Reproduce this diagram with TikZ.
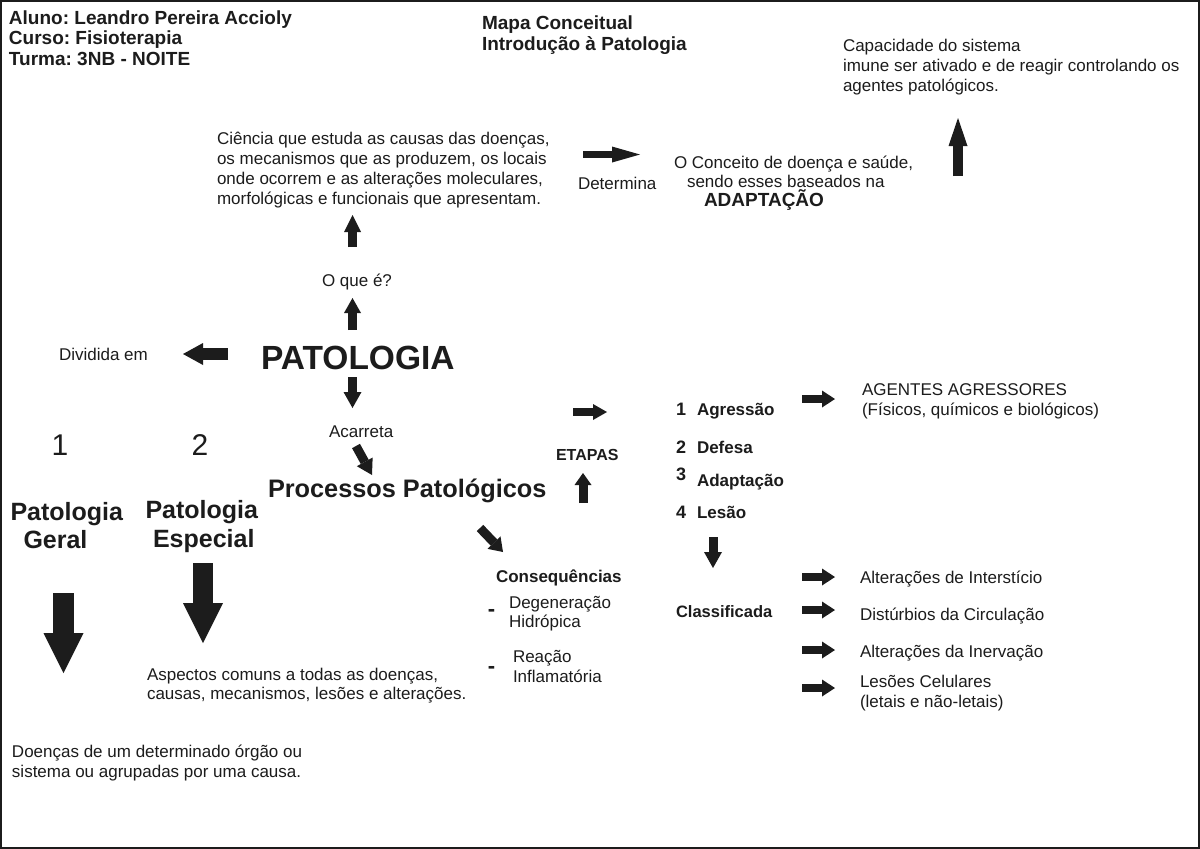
\documentclass[tikz,border=0pt]{standalone}
\usepackage{fontspec}
\setmainfont{Liberation Sans}
\usetikzlibrary{arrows.meta}
\definecolor{ink}{HTML}{1C1C1C}
\newcommand{\myfs}[2]{\fontsize{#1pt}{#2pt}\selectfont}
\frenchspacing
\begin{document}
\begin{tikzpicture}[x=1pt,y=-1pt,
  txt/.style={inner sep=0pt, outer sep=0pt, text=ink, align=left, anchor=base west, font=\myfs{17}{20}},
  btxt/.style={txt, font=\bfseries\myfs{#1}{#1}},
  barr/.style n args={3}{draw=ink, line width=#1pt, -{Triangle[width=#2pt, length=#3pt, line width=0pt]}}]
\useasboundingbox (0,0) rectangle (1200,849);
\fill[white] (0,0) rectangle (1200,849);
\draw[ink, line width=2pt] (1,1) rectangle (1199,848);

% multi-line nodes are placed by the baseline of their last line
% header
\node[txt, font=\bfseries\myfs{19}{20.5}] (hdr) at (9,65) {Aluno: Leandro Pereira Accioly\\Curso: Fisioterapia\\Turma: 3NB - NOITE};
\node[txt, font=\bfseries\myfs{19}{21}] (mapa) at (482,50) {Mapa Conceitual\\Introdução à Patologia};
\node[txt] (cap) at (843,91) {Capacidade do sistema\\imune ser ativado e de reagir controlando os\\agentes patológicos.};

% upper middle
\node[txt] (cien) at (217,204) {Ciência que estuda as causas das doenças,\\os mecanismos que as produzem, os locais\\onde ocorrem e as alterações moleculares,\\morfológicas e funcionais que apresentam.};
\node[txt] (det) at (578,189) {Determina};
\node[txt] (conc1) at (674,168) {O Conceito de doença e saúde,};
\node[txt] (conc2) at (687,187) {sendo esses baseados na};
\node[btxt=19] (adapt) at (704,206) {ADAPTAÇÃO};
\node[txt] (oque) at (322,286) {O que é?};

% centre
\node[txt] (div) at (59,360) {Dividida em};
\node[btxt=33.5] (pat) at (261,369) {PATOLOGIA};
\node[txt] (acar) at (329,437) {Acarreta};
\node[btxt=25.3] (proc) at (268,497) {Processos Patológicos};

% left branch
\node[txt, anchor=base, font=\myfs{30}{30}] (one) at (60,455) {1};
\node[txt, anchor=base, font=\myfs{30}{30}] (two) at (200,455) {2};
\node[btxt=25] (geralA) at (10.5,520) {Patologia};
\node[btxt=25] (geralB) at (23.5,548) {Geral};
\node[btxt=25] (espA) at (145.5,518) {Patologia};
\node[btxt=25] (espB) at (153,547) {Especial};
\node[txt, font=\myfs{17}{19.5}] (asp) at (147,699.5) {Aspectos comuns a todas as doenças,\\causas, mecanismos, lesões e alterações.};
\node[txt] (doen) at (12,777) {Doenças de um determinado órgão ou\\sistema ou agrupadas por uma causa.};

% etapas
\node[btxt=16] (etap) at (556,460) {ETAPAS};
\node[btxt=18] (n1) at (676,415) {1};
\node[btxt=17] (s1) at (697,415) {Agressão};
\node[btxt=18] (n2) at (676,453) {2};
\node[btxt=17] (s2) at (697,453) {Defesa};
\node[btxt=18] (n3) at (676,480) {3};
\node[btxt=17] (s3) at (697,486) {Adaptação};
\node[btxt=18] (n4) at (676,518) {4};
\node[btxt=17] (s4) at (697,518) {Lesão};
\node[txt] (agen) at (862,415) {AGENTES AGRESSORES\\(Físicos, químicos e biológicos)};

% consequencias
\node[btxt=17] (cons) at (496,582) {Consequências};
\node[btxt=22, anchor=base] (d1) at (491.5,616) {-};
\node[btxt=22, anchor=base] (d2) at (491.5,673) {-};
\node[txt, font=\myfs{17}{19}] (deg) at (509,627) {Degeneração\\Hidrópica};
\node[txt, font=\myfs{17}{20}] (rea) at (513,682) {Reação\\Inflamatória};

% classificada
\node[btxt=16.5] (clas) at (676,617) {Classificada};
\node[txt] (alt1) at (860,583) {Alterações de Interstício};
\node[txt] (alt2) at (860,620) {Distúrbios da Circulação};
\node[txt] (alt3) at (860,657) {Alterações da Inervação};
\node[txt] (les) at (860,707) {Lesões Celulares\\(letais e não-letais)};

% arrow end points
\coordinate (capS) at (958,176);   \coordinate (capE) at (958,118);
\coordinate (cieS) at (352.5,247); \coordinate (cieE) at (352.5,215);
\coordinate (oqS) at (352.5,330);  \coordinate (oqE) at (352.5,298);
\coordinate (detS) at (583,154.5); \coordinate (detE) at (640,154.5);
\coordinate (divS) at (228,354);   \coordinate (divE) at (183,354);
\coordinate (patS) at (352.5,377); \coordinate (patE) at (352.5,408);
\coordinate (acS) at (356,446);    \coordinate (acE) at (372,475);
\coordinate (prS) at (480,528);    \coordinate (prE) at (503,552);
\coordinate (etS) at (573,412);    \coordinate (etE) at (607,412);
\coordinate (euS) at (583,503);    \coordinate (euE) at (583,473);
\coordinate (agS) at (802,399);    \coordinate (agE) at (835,399);
\coordinate (lsS) at (713,537);    \coordinate (lsE) at (713,568);
\coordinate (c1S) at (802,577);    \coordinate (c1E) at (835,577);
\coordinate (c2S) at (802,610);    \coordinate (c2E) at (835,610);
\coordinate (c3S) at (802,650);    \coordinate (c3E) at (835,650);
\coordinate (c4S) at (802,688);    \coordinate (c4E) at (835,688);
\coordinate (grS) at (63.5,593);   \coordinate (grE) at (63.5,673);
\coordinate (esS) at (203,563);    \coordinate (esE) at (203,643);

\draw[barr={10}{19}{28}] (capS) -- (capE);
\draw[barr={9}{17}{17}] (cieS) -- (cieE);
\draw[barr={9}{17}{15}] (oqS) -- (oqE);
\draw[barr={7.5}{16}{28}] (detS) -- (detE);
\draw[barr={12}{22}{20}] (divS) -- (divE);
\draw[barr={9}{18}{16}] (patS) -- (patE);
\draw[barr={9}{18}{15}] (acS) -- (acE);
\draw[barr={9}{18}{13}] (prS) -- (prE);
\draw[barr={8}{16}{14}] (etS) -- (etE);
\draw[barr={9}{17}{12}] (euS) -- (euE);
\draw[barr={7.5}{17}{13}] (agS) -- (agE);
\draw[barr={9}{18}{16}] (lsS) -- (lsE);
\draw[barr={7.5}{17}{13}] (c1S) -- (c1E);
\draw[barr={7.5}{17}{13}] (c2S) -- (c2E);
\draw[barr={7.5}{17}{13}] (c3S) -- (c3E);
\draw[barr={7.5}{17}{13}] (c4S) -- (c4E);
\draw[barr={21}{40}{40}] (grS) -- (grE);
\draw[barr={20}{40}{40}] (esS) -- (esE);
\end{tikzpicture}
\end{document}
